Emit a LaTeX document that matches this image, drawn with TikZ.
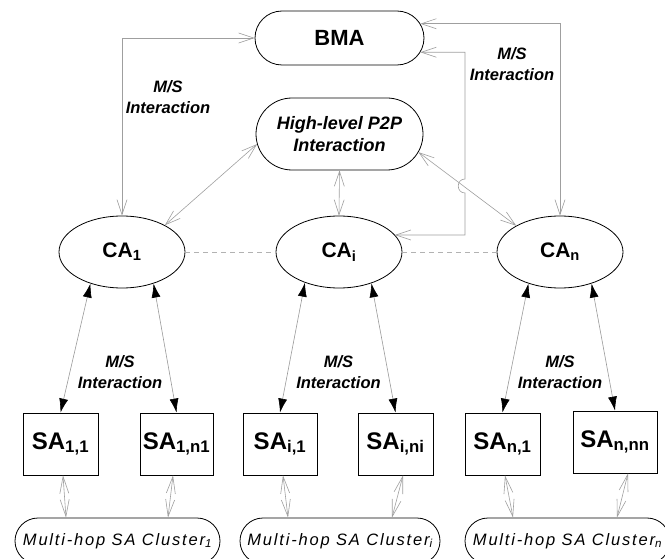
\documentclass[tikz,border=0pt]{standalone}
\usepackage{fontspec}
\setmainfont{Liberation Sans}
\newfontfamily\trackfont[LetterSpace=11]{Liberation Sans}
\usetikzlibrary{shapes.geometric,shapes.misc,arrows.meta,calc}
\begin{document}
\begin{tikzpicture}[x=1pt,y=-1pt,
  ell/.style={draw, ellipse, line width=0.8pt, minimum width=126pt, minimum height=72pt, inner sep=0pt, font=\fontsize{21}{24}\selectfont\bfseries},
  sabox/.style={draw, rectangle, line width=0.8pt, minimum height=62pt, inner sep=0pt, font=\fontsize{24}{28}\selectfont\bfseries},
  stad/.style={draw, rounded rectangle, line width=0.8pt, inner sep=0pt},
  clus/.style={stad, minimum height=46pt, font=\trackfont\fontsize{16.5}{19}\selectfont\itshape},
  lbl/.style={font=\fontsize{16.5}{21}\selectfont\bfseries\itshape, align=center},
  oarr/.style={draw=gray!75, line width=0.6pt, {Straight Barb[length=15pt,width=10pt]}-{Straight Barb[length=15pt,width=10pt]}},
  sarr/.style={draw=gray!75, line width=0.6pt, {Straight Barb[length=17pt,width=9pt]}-{Straight Barb[length=17pt,width=9pt]}},
  farr/.style={draw=gray!80, line width=0.6pt, {Latex[length=14pt,width=9pt,color=black]}-{Latex[length=14pt,width=9pt,color=black]}},
  dsh/.style={draw=gray!60, line width=0.7pt, dash pattern=on 5pt off 4pt},
]
\useasboundingbox (0,0) rectangle (665,559);
\clip (0,0) rectangle (665,559);

% top nodes
\node[stad, minimum width=169pt, minimum height=54pt, font=\fontsize{22}{26}\selectfont\bfseries] (BMA) at (339.5,38) {BMA};
\node[stad, minimum width=167pt, minimum height=72pt, font=\fontsize{18}{22}\selectfont\bfseries\itshape, align=center] (P2P) at (339.5,134) {High-level P2P\\Interaction};

% cluster agents
\node[ell] (CA1) at (122,252) {CA\textsubscript{1}};
\node[ell] (CAi) at (339,252) {CA\textsubscript{i}};
\node[ell] (CAn) at (560,252) {CA\textsubscript{n}};

% sensor agents
\node[sabox, minimum width=75pt] (SA11) at (60.5,444) {SA\textsubscript{1,1}};
\node[sabox, minimum width=73pt] (SA1n) at (176.5,444) {SA\textsubscript{1,n1}};
\node[sabox, minimum width=74pt] (SAi1) at (280,444) {SA\textsubscript{i,1}};
\node[sabox, minimum width=75pt] (SAin) at (395.5,444) {SA\textsubscript{i,ni}};
\node[sabox, minimum width=75pt] (SAn1) at (502.5,444) {SA\textsubscript{n,1}};
\node[sabox, minimum width=84pt] (SAnn) at (615,442) {SA\textsubscript{n,nn}};

% clusters
\node[clus, minimum width=205pt] (Cl1) at (117.5,541) {Multi-hop SA Cluster\textsubscript{1}};
\node[clus, minimum width=200pt] (Cli) at (340,541) {Multi-hop SA Cluster\textsubscript{i}};
\node[clus, minimum width=205pt] (Cln) at (567.5,541) {Multi-hop SA Cluster\textsubscript{n}};

% labels
\node[lbl] (L1) at (168,97) {M/S\\Interaction};
\node[lbl] (L2) at (512,64) {M/S\\Interaction};
\node[lbl] (L3) at (120,372) {M/S\\Interaction};
\node[lbl] (L4) at (338.5,372) {M/S\\Interaction};
\node[lbl] (L5) at (560,372) {M/S\\Interaction};

% BMA connectors
\draw[oarr] (BMA.west) -| (CA1.north);
\draw[oarr] (BMA.10) -| (CAn.north);
\coordinate (h1) at (465,179);
\coordinate (h2) at (465,193);
\coordinate (c1) at (465,235);
\draw[oarr] (BMA.-10) -| (h1) .. controls (456,179) and (456,193) .. (h2) -- (c1) -- (CAi.17 |- c1);

% P2P connectors
\draw[oarr] (P2P.187) -- (CA1.32);
\draw[oarr] (P2P.south) -- (CAi.north);
\draw[oarr] (P2P.-13) -- (CAn.149);

% dashed links
\draw[dsh] (CA1.east) -- (CAi.west);
\draw[dsh] (CAi.east) -- (CAn.west);

% CA - SA
\draw[farr] (CA1.225) -- (SA11.north);
\draw[farr] (CA1.315) -- (SA1n.north);
\draw[farr] (CAi.222) -- (SAi1.north);
\draw[farr] (CAi.316) -- (SAin.north);
\draw[farr] (CAn.225) -- (SAn1.north);
\draw[farr] (CAn.315) -- (SAnn.north);

% SA - clusters
\draw[sarr] ([xshift=2.5pt]SA11.south) -- ([xshift=5.5pt]SA11.south |- Cl1.north);
\draw[sarr] ([xshift=-3.5pt]SA1n.south) -- ([xshift=-8.5pt]SA1n.south |- Cl1.north);
\draw[sarr] ([xshift=3pt]SAi1.south) -- ([xshift=8pt]SAi1.south |- Cli.north);
\draw[sarr] ([xshift=7.5pt]SAin.south) -- ([xshift=-3.5pt]SAin.south |- Cli.north);
\draw[sarr] ([xshift=2.5pt]SAn1.south) -- ([xshift=10.5pt]SAn1.south |- Cln.north);
\draw[sarr] ([xshift=13pt]SAnn.south) -- ([xshift=2pt]SAnn.south |- Cln.north);
\end{tikzpicture}
\end{document}
